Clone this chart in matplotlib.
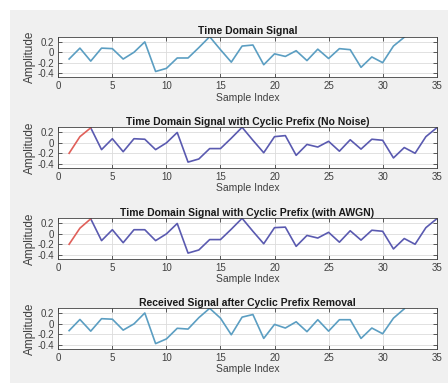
import matplotlib
matplotlib.use("Agg")
import matplotlib.pyplot as plt
from matplotlib.patches import Rectangle

plt.rcParams['font.family'] = ['Liberation Sans', 'DejaVu Sans']

# Data
signal = [-0.13, 0.08, -0.17, 0.08, 0.07, -0.13, 0.0, 0.2, -0.37, -0.31,
          -0.11, -0.11, 0.09, 0.30, 0.05, -0.19, 0.12, 0.14, -0.24, -0.03,
          -0.08, 0.03, -0.16, 0.06, -0.12, 0.07, 0.05, -0.29, -0.09, -0.20,
          0.12, 0.29]
cp_len = 3
with_cp = signal[-cp_len:] + signal
with_awgn = [-0.20, 0.11, 0.29, -0.13, 0.08, -0.17, 0.08, 0.08, -0.13, 0.0,
             0.2, -0.37, -0.31, -0.11, -0.11, 0.09, 0.30, 0.05, -0.19, 0.12,
             0.13, -0.24, -0.03, -0.08, 0.03, -0.16, 0.06, -0.12, 0.07, 0.05,
             -0.29, -0.09, -0.20, 0.12, 0.29]
received = [-0.13, 0.085, -0.14, 0.10, 0.09, -0.12, 0.0, 0.21, -0.38, -0.29,
            -0.085, -0.10, 0.12, 0.30, 0.11, -0.21, 0.13, 0.18, -0.28, -0.01,
            -0.08, 0.04, -0.15, 0.08, -0.14, 0.08, 0.08, -0.28, -0.08, -0.19,
            0.11, 0.29]

titles = ["Time Domain Signal",
          "Time Domain Signal with Cyclic Prefix (No Noise)",
          "Time Domain Signal with Cyclic Prefix (with AWGN)",
          "Received Signal after Cyclic Prefix Removal"]
xticks = [0, 5, 10, 15, 20, 25, 30, 35]
yticks = [-0.4, -0.2, 0, 0.2]
yticklabels = ["-0.4", "-0.2", "0", "0.2"]

W, H = 448, 383
fig = plt.figure(figsize=(W / 100, H / 100), dpi=100, facecolor='white')
fig.patches.append(Rectangle((10 / W, 0), 1 - 10 / W, 1 - 10 / H,
                             transform=fig.transFigure, facecolor='#f0f0f0',
                             edgecolor='none', zorder=-10))

tops = [36.7, 127.3, 218.3, 308.3]
ax_h = 40.5
left, right = 58.3, 436.7

light_blue = '#5b9ec2'
dark_blue = '#5a5ab0'
red = '#e0605a'

for i, top in enumerate(tops):
    ax = fig.add_axes([left / W, 1 - (top + ax_h) / H, (right - left) / W, ax_h / H])
    ax.set_facecolor('white')
    if i == 0:
        ax.plot(range(1, len(signal) + 1), signal, color=light_blue, lw=1.2)
    elif i == 3:
        ax.plot(range(1, len(received) + 1), received, color=light_blue, lw=1.2)
    else:
        data = with_cp if i == 1 else with_awgn
        x = list(range(1, len(data) + 1))
        ax.plot(x[cp_len - 1:], data[cp_len - 1:], color=dark_blue, lw=1.2)
        ax.plot(x[:cp_len], data[:cp_len], color=red, lw=1.2)
    ax.set_xlim(0, 35)
    ax.set_ylim(-0.48, 0.3)
    ax.set_xticks(xticks)
    ax.set_yticks(yticks)
    ax.set_yticklabels(yticklabels)
    ax.grid(True, color='#dcdcdc', lw=0.6)
    ax.set_axisbelow(True)
    ax.tick_params(direction='in', length=3, width=0.6, top=True, right=True,
                   labelsize=7, colors='#404040', pad=3)
    for s in ax.spines.values():
        s.set_color('#404040')
        s.set_linewidth(0.6)
    ax.set_title(titles[i], fontsize=7.5, fontweight='bold', color='#1a1a1a', pad=2)
    ax.set_xlabel("Sample Index", fontsize=7.5, color='#404040', labelpad=1)
    ax.set_ylabel("Amplitude", fontsize=8.5, color='#404040', labelpad=1)

fig.savefig("out.png", dpi=100, facecolor=fig.get_facecolor())
